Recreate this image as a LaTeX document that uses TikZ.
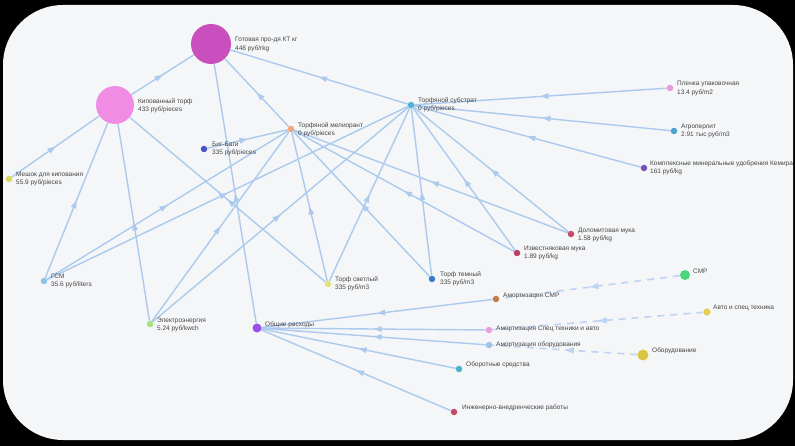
\documentclass[tikz,border=0pt]{standalone}
\usepackage{fontspec}
\setmainfont{Liberation Sans}
\usetikzlibrary{arrows.meta,decorations.markings}
\pgfdeclarelayer{bg}
\pgfsetlayers{bg,main}
\definecolor{panel}{HTML}{F5F6F8}
\definecolor{edgec}{HTML}{ABCAEE}
\definecolor{dedgec}{HTML}{BDD5F2}
\definecolor{txt}{HTML}{454545}
\definecolor{cGP}{HTML}{C94FBF}
\definecolor{cKT}{HTML}{F08CE4}
\definecolor{cTM}{HTML}{F4A57C}
\definecolor{cBB}{HTML}{4A56C0}
\definecolor{cTS}{HTML}{4FB0DC}
\definecolor{cPU}{HTML}{E89AE0}
\definecolor{cAP}{HTML}{4A9FCC}
\definecolor{cKM}{HTML}{7A4FB5}
\definecolor{cMK}{HTML}{D8D860}
\definecolor{cGSM}{HTML}{8EC4EC}
\definecolor{cTSv}{HTML}{E2E27A}
\definecolor{cTT}{HTML}{3A7CC8}
\definecolor{cDM}{HTML}{C84A6C}
\definecolor{cIM}{HTML}{B83E66}
\definecolor{cEE}{HTML}{A8E27C}
\definecolor{cOR}{HTML}{9B4FE4}
\definecolor{cASMR}{HTML}{C47A4C}
\definecolor{cSMR}{HTML}{4CD67C}
\definecolor{cAST}{HTML}{E2D050}
\definecolor{cASTA}{HTML}{EA9CDC}
\definecolor{cAO}{HTML}{A0C2EA}
\definecolor{cOB}{HTML}{D9C640}
\definecolor{cOS}{HTML}{4AB2CA}
\definecolor{cIVR}{HTML}{C44A68}
\tikzset{
  dot/.style={circle, inner sep=0pt, draw=none, minimum size=6.5pt},
  lbl/.style={anchor=west, font=\fontsize{6.5}{8.2}\selectfont, align=left, inner sep=0pt, text=txt},
  flow/.style={draw=edgec, line width=1.4pt, postaction={decorate},
    decoration={markings, mark=at position 0.5 with {\arrow[edgec]{Triangle[length=8pt,width=5.5pt]}}}},
  dflow/.style={draw=dedgec, line width=1.6pt, dash pattern=on 7pt off 6pt, postaction={decorate},
    decoration={markings, mark=at position 0.5 with {\arrow[dedgec]{Triangle[length=9pt,width=6pt]}}}}
}
\begin{document}
\begin{tikzpicture}[x=1pt,y=-1pt]
\useasboundingbox (0,0) rectangle (795,446);
\begin{pgfonlayer}{bg}
\fill[black] (0,0) rectangle (795,446);
\fill[panel, rounded corners=60pt] (3,5) rectangle (793,440);
\end{pgfonlayer}
% nodes
\node[dot, minimum size=40pt, fill=cGP] (GP) at (211,44) {};
\node[lbl] (GPl) at (235,44.5) {Готовая про-дя КТ кг\\448 руб/rkg};
\node[dot, minimum size=38pt, fill=cKT] (KT) at (115,105) {};
\node[lbl] (KTl) at (138,105.5) {Кипованный торф\\433 руб/pieces};
\node[dot, fill=cTM] (TM) at (291,129) {};
\node[lbl] (TMl) at (298,130) {Торфяной мелиорант\\0 руб/pieces};
\node[dot, fill=cBB] (BB) at (204,149) {};
\node[lbl] (BBl) at (212,149) {Биг-Баги\\335 руб/pieces};
\node[dot, fill=cTS] (TS) at (411,105) {};
\node[lbl] (TSl) at (418,105) {Торфяной субстрат\\0 руб/pieces};
\node[dot, fill=cPU] (PU) at (670,88) {};
\node[lbl] (PUl) at (677,88.5) {Пленка упаковочная\\13.4 руб/m2};
\node[dot, fill=cAP] (AP) at (674,131) {};
\node[lbl] (APl) at (681,131) {Агроперлит\\2.91 тыс руб/m3};
\node[dot, fill=cKM] (KM) at (644,168) {};
\node[lbl] (KMl) at (650,168) {Комплексные минеральные удобрения Кемира\\161 руб/kg};
\node[dot, fill=cMK] (MK) at (9,179) {};
\node[lbl] (MKl) at (16,179) {Мешок для кипования\\55.9 руб/pieces};
\node[dot, fill=cGSM] (GSM) at (44,281) {};
\node[lbl] (GSMl) at (51,281) {ГСМ\\35.6 руб/liters};
\node[dot, fill=cTSv] (TSv) at (328,284) {};
\node[lbl] (TSvl) at (335,284) {Торф светлый\\335 руб/m3};
\node[dot, fill=cTT] (TT) at (432,279) {};
\node[lbl] (TTl) at (440,279) {Торф темный\\335 руб/m3};
\node[dot, fill=cDM] (DM) at (571,234) {};
\node[lbl] (DMl) at (578,235) {Доломитовая мука\\1.58 руб/kg};
\node[dot, fill=cIM] (IM) at (517,253) {};
\node[lbl] (IMl) at (524,253) {Известняковая мука\\1.89 руб/kg};
\node[dot, fill=cEE] (EE) at (150,324) {};
\node[lbl] (EEl) at (157,325) {Электроэнергия\\5.24 руб/kwch};
\node[dot, minimum size=9pt, fill=cOR] (OR) at (257,328) {};
\node[lbl] (ORl) at (265,325) {Общие расходы};
\node[dot, fill=cASMR] (ASMR) at (496,299) {};
\node[lbl] (ASMRl) at (503,295.5) {Амортизация СМР};
\node[dot, minimum size=10pt, fill=cSMR] (SMR) at (685,275) {};
\node[lbl] (SMRl) at (693,271) {СМР};
\node[dot, minimum size=7pt, fill=cAST] (AST) at (707,312) {};
\node[lbl] (ASTl) at (713,308) {Авто и спец техника};
\node[dot, fill=cASTA] (ASTA) at (489,330) {};
\node[lbl] (ASTAl) at (496,329) {Амортизация Спец техники и авто};
\node[dot, fill=cAO] (AO) at (489,345) {};
\node[lbl] (AOl) at (496,344.5) {Амортизация оборудования};
\node[dot, minimum size=11pt, fill=cOB] (OB) at (643,355) {};
\node[lbl] (OBl) at (652,351) {Оборудование};
\node[dot, fill=cOS] (OS) at (459,369) {};
\node[lbl] (OSl) at (466,365) {Оборотные средства};
\node[dot, fill=cIVR] (IVR) at (454,412) {};
\node[lbl] (IVRl) at (462,408) {Инженерно-внедренческие работы};
% edges
\begin{pgfonlayer}{bg}
\draw[flow] (KT) -- (GP);
\draw[flow] (TS) -- (GP);
\draw[flow] (TM) -- (GP);
\draw[flow] (OR) -- (GP);
\draw[flow] (MK) -- (KT);
\draw[flow] (GSM) -- (KT);
\draw[flow] (EE) -- (KT);
\draw[flow] (TSv) -- (KT);
\draw[flow] (BB) -- (TM);
\draw[flow] (GSM) -- (TM);
\draw[flow] (EE) -- (TM);
\draw[flow] (TSv) -- (TM);
\draw[flow] (TT) -- (TM);
\draw[flow] (IM) -- (TM);
\draw[flow] (DM) -- (TM);
\draw[flow] (PU) -- (TS);
\draw[flow] (AP) -- (TS);
\draw[flow] (KM) -- (TS);
\draw[flow] (GSM) -- (TS);
\draw[flow] (EE) -- (TS);
\draw[flow] (TSv) -- (TS);
\draw[flow] (TT) -- (TS);
\draw[flow] (IM) -- (TS);
\draw[flow] (DM) -- (TS);
\draw[flow] (ASMR) -- (OR);
\draw[flow] (ASTA) -- (OR);
\draw[flow] (AO) -- (OR);
\draw[flow] (OS) -- (OR);
\draw[flow] (IVR) -- (OR);
\draw[dflow] (SMR) -- (ASMR);
\draw[dflow] (AST) -- (ASTA);
\draw[dflow] (OB) -- (AO);
\end{pgfonlayer}
\end{tikzpicture}
\end{document}
